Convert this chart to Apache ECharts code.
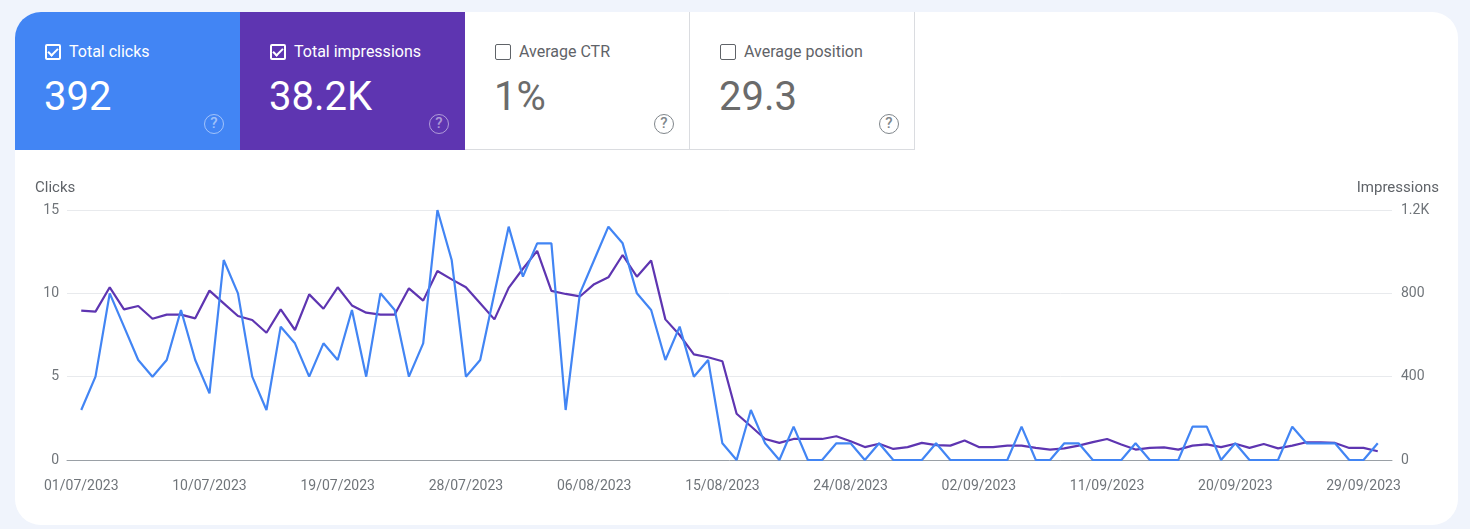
<!DOCTYPE html>
<html>
<head>
<meta charset="utf-8">
<script src="https://cdn.jsdelivr.net/npm/echarts@6/dist/echarts.min.js"></script>
<style>
  html, body { margin: 0; padding: 0; }
  body { width: 1470px; height: 529px; background: #f0f4fc; font-family: Roboto, "Noto Sans", sans-serif; position: relative; overflow: hidden; }
  #card { position: absolute; left: 15px; top: 12px; width: 1443px; height: 513px; background: #fff; border-radius: 26px; overflow: hidden; }
  .tile { position: absolute; top: 0; width: 225px; height: 138px; box-sizing: border-box; }
  .tile .lbl { position: absolute; left: 30px; top: 30px; font-size: 16px; line-height: 20px; display: flex; align-items: center; }
  .tile .box { width: 16px; height: 16px; box-sizing: border-box; border: 2px solid; border-radius: 2px; margin-right: 8px; position: relative; }
  .tile .num { position: absolute; left: 29px; top: 63px; font-size: 40px; line-height: 44px; }
  .tile .help { position: absolute; left: 189px; top: 102px; width: 20px; height: 20px; box-sizing: border-box; border: 1.5px solid; border-radius: 50%; font-size: 15px; font-weight: 500; line-height: 17px; text-align: center; }
  .on { color: #fff; }
  .on .box { border-color: #fff; }
  .on .help { border-color: rgba(255,255,255,0.5); color: rgba(255,255,255,0.5); }
  .off { background: #fff; border-right: 1px solid #dadce0; border-bottom: 1px solid #dadce0; color: #5f6368; }
  .off .box { border-color: #5f6368; border-width: 1.5px; }
  .off .num { color: #6b6b6b; }
  .off .help { border-color: #80868b; color: #80868b; }
  .tick { position: absolute; left: 3px; top: 0px; width: 4px; height: 8px; border-right: 2px solid #fff; border-bottom: 2px solid #fff; transform: rotate(45deg); }
  #chart { position: absolute; left: 0; top: 138px; width: 1443px; height: 375px; }
</style>
</head>
<body>
<div id="card">
  <div class="tile on" style="left:0;background:#4285f4;">
    <div class="lbl"><span class="box"><span class="tick"></span></span>Total clicks</div>
    <div class="num">392</div>
    <div class="help">?</div>
  </div>
  <div class="tile on" style="left:225px;background:#5e35b1;">
    <div class="lbl"><span class="box"><span class="tick"></span></span>Total impressions</div>
    <div class="num">38.2K</div>
    <div class="help">?</div>
  </div>
  <div class="tile off" style="left:450px;">
    <div class="lbl"><span class="box"></span>Average CTR</div>
    <div class="num">1%</div>
    <div class="help">?</div>
  </div>
  <div class="tile off" style="left:675px;">
    <div class="lbl"><span class="box"></span>Average position</div>
    <div class="num">29.3</div>
    <div class="help">?</div>
  </div>
  <div id="chart"></div>
</div>
<script>
var chartDom = document.getElementById('chart');

// daily data, 01/07/2023 .. 30/09/2023
var startDate = new Date(2023, 6, 1);
var dayCount = 92;

var clicks = [3, 5, 10, 8, 6, 5, 6, 9, 6, 4, 12, 10, 5, 3, 8, 7, 5, 7, 6, 9,
    5, 10, 9, 5, 7, 15, 12, 5, 6, 10, 14, 11, 13, 13, 3, 10, 12, 14, 13, 10,
    9, 6, 8, 5, 6, 1, 0, 3, 1, 0, 2, 0, 0, 1, 1, 0, 1, 0, 0, 0,
    1, 0, 0, 0, 0, 0, 2, 0, 0, 1, 1, 0, 0, 0, 1, 0, 0, 0, 2, 2,
    0, 1, 0, 0, 0, 2, 1, 1, 1, 0, 0, 1];

var impressions = [717, 712, 829, 723, 739, 678, 698, 698, 680, 813, 752, 691, 672, 611, 723, 624, 795, 726, 829, 742,
    707, 698, 698, 824, 765, 907, 867, 829, 752, 675, 826, 918, 1004, 812, 797, 785, 844, 877, 984, 880,
    958, 675, 600, 507, 493, 474, 222, 162, 101, 82, 101, 101, 101, 114, 90, 62, 78, 53, 62, 82,
    71, 69, 94, 62, 62, 69, 69, 58, 50, 56, 69, 86, 101, 74, 50, 58, 61, 50, 69, 75,
    62, 78, 58, 77, 56, 69, 85, 85, 82, 58, 58, 42];

var clickTicks = [0, 5, 10, 15];
var impressionTicks = [0, 400, 800, 1200];

function pad2(n) { return n < 10 ? '0' + n : '' + n; }

var dates = [];
for (var i = 0; i < dayCount; i++) {
    var d = new Date(startDate.getFullYear(), startDate.getMonth(), startDate.getDate() + i);
    dates.push(pad2(d.getDate()) + '/' + pad2(d.getMonth() + 1) + '/' + d.getFullYear());
}

// one empty day on each side, like the console's padding
var categories = [''].concat(dates, ['']);
var clickSeries = [null].concat(clicks, [null]);
var impressionSeries = [null].concat(impressions, [null]);

function createChart() {
    var myChart = echarts.init(chartDom);
    var labelColor = '#70757a';
    var option;

    option = {
        animation: false,
        grid: {
            left: 52,
            right: 66,
            top: 60,
            bottom: 65
        },
        graphic: [
            { type: 'text', left: 20, top: 31, style: { text: 'Clicks', fill: '#5f6368', font: '15px Roboto' } },
            { type: 'text', right: 19, top: 31, style: { text: 'Impressions', fill: '#5f6368', font: '15px Roboto' } }
        ],
        xAxis: {
            type: 'category',
            boundaryGap: false,
            data: categories,
            axisTick: { show: false },
            axisLine: { lineStyle: { color: '#9aa0a6', width: 1 } },
            axisLabel: {
                color: labelColor,
                fontSize: 14,
                fontFamily: 'Roboto',
                margin: 19,
                interval: function (idx) {
                    var k = idx - 1;
                    return k >= 0 && k < dayCount && k % 9 === 0;
                }
            }
        },
        yAxis: [
            {
                type: 'value',
                min: clickTicks[0],
                max: clickTicks[clickTicks.length - 1],
                interval: 5,
                axisLine: { show: false },
                axisTick: { show: false },
                axisLabel: { color: labelColor, fontSize: 14, fontFamily: 'Roboto', margin: 8 },
                splitLine: { lineStyle: { color: '#e8eaed' } }
            },
            {
                type: 'value',
                min: impressionTicks[0],
                max: impressionTicks[impressionTicks.length - 1],
                interval: 400,
                axisLine: { show: false },
                axisTick: { show: false },
                splitLine: { show: false },
                axisLabel: {
                    color: labelColor,
                    fontSize: 14,
                    fontFamily: 'Roboto',
                    margin: 9,
                    formatter: function (v) {
                        return v >= 1000 ? (v / 1000) + 'K' : v;
                    }
                }
            }
        ],
        series: [
            {
                name: 'Impressions',
                type: 'line',
                yAxisIndex: 1,
                data: impressionSeries,
                symbol: 'none',
                lineStyle: { color: '#5e35b1', width: 2.2 },
                itemStyle: { color: '#5e35b1' }
            },
            {
                name: 'Clicks',
                type: 'line',
                yAxisIndex: 0,
                data: clickSeries,
                symbol: 'none',
                lineStyle: { color: '#4285f4', width: 2.2 },
                itemStyle: { color: '#4285f4' }
            }
        ]
    };

    option && myChart.setOption(option);
}

createChart();
</script>
</body>
</html>
